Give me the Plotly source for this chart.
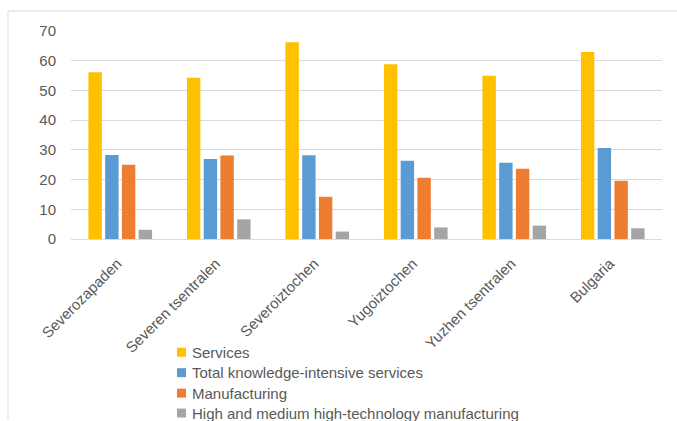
import plotly.graph_objects as go

regions = ["Severozapaden", "Severen tsentralen", "Severoiztochen", "Yugoiztochen", "Yuzhen tsentralen", "Bulgaria"]
services = [56.1, 54.3, 66.2, 58.8, 54.9, 62.9]
kis = [28.3, 26.9, 28.2, 26.3, 25.7, 30.6]
manufacturing = [25.0, 28.1, 14.2, 20.6, 23.6, 19.6]
hightech = [3.1, 6.6, 2.5, 3.9, 4.5, 3.6]
series_names = ["Services", "Total knowledge-intensive services", "Manufacturing",
                "High and medium high-technology manufacturing"]
colors = ["#FFC000", "#5B9BD5", "#ED7D31", "#A5A5A5"]
y_ticks = [0, 10, 20, 30, 40, 50, 60, 70]

fig = go.Figure()
for name, vals, col in zip(series_names, [services, kis, manufacturing, hightech], colors):
    fig.add_trace(go.Bar(x=regions, y=vals, name=name, showlegend=False,
                         marker=dict(color=col, line=dict(width=0))))

W, H = 677, 421
L, R, T, B = 71, 662, 31, 239.5
pw, ph = R - L, B - T

def px(x):
    return (x - L) / pw

def py(y):
    return (B - y) / ph

font = "Liberation Sans"
txt = "#595959"

shapes = [
    dict(type="line", xref="paper", yref="paper", x0=px(8), x1=px(677), y0=py(11), y1=py(11),
         line=dict(color="#D9D9D9", width=1)),
    dict(type="line", xref="paper", yref="paper", x0=px(8), x1=px(8), y0=py(11), y1=py(421),
         line=dict(color="#D9D9D9", width=1)),
]
annotations = []
row_y = [353, 373.5, 394, 414]
for name, col, yc in zip(series_names, colors, row_y):
    shapes.append(dict(type="rect", xref="paper", yref="paper",
                       x0=px(177), x1=px(186), y0=py(yc + 4.5), y1=py(yc - 4.5),
                       fillcolor=col, line=dict(width=0)))
    annotations.append(dict(text=name, xref="paper", yref="paper", x=px(190), y=py(yc),
                            xanchor="left", yanchor="middle", showarrow=False,
                            font=dict(size=15, color=txt, family=font)))

fig.update_layout(
    width=W, height=H,
    margin=dict(l=L, r=W - R, t=T, b=H - B, autoexpand=False),
    paper_bgcolor="white", plot_bgcolor="white",
    barmode="group", bargap=0.32, bargroupgap=0.2,
    font=dict(family=font, size=15, color=txt),
    showlegend=False,
    xaxis=dict(tickangle=-45, showgrid=False, showline=True, linecolor="#D9D9D9", linewidth=1,
               ticks="", ticklabelstandoff=9, ticklabelshift=-3,
               tickfont=dict(size=15, color=txt)),
    yaxis=dict(range=[0, 70], tickvals=y_ticks, showgrid=True, gridcolor="#D9D9D9", gridwidth=1,
               zeroline=False, showline=False, ticks="", ticklabelstandoff=14,
               tickfont=dict(size=15, color=txt)),
    shapes=shapes,
    annotations=annotations,
)

fig.write_html("out.html")
